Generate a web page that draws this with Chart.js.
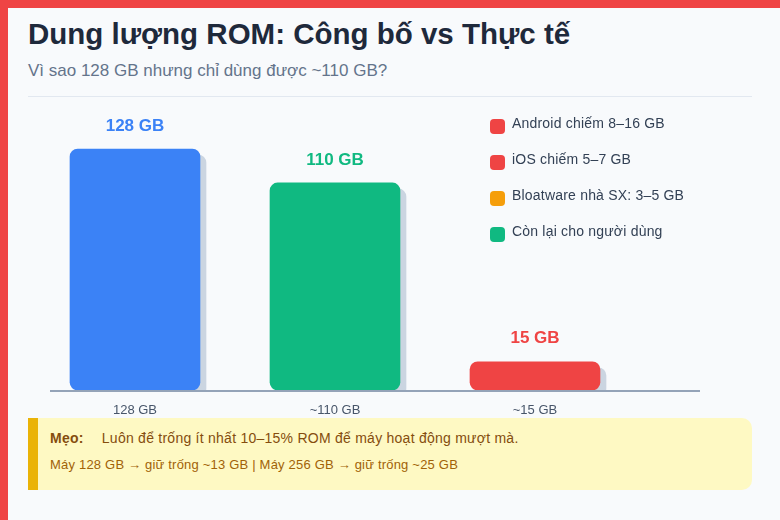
<!DOCTYPE html>
<html lang="vi">
<head>
<meta charset="utf-8">
<title>Dung lượng ROM</title>
<script src="https://cdn.jsdelivr.net/npm/chart.js@4.4.1/dist/chart.umd.min.js"></script>
<style>
  html, body { margin: 0; padding: 0; }
  body {
    width: 780px; height: 520px; overflow: hidden;
    background: #ef4444;
    font-family: "Liberation Sans", Arial, Helvetica, sans-serif;
    position: relative;
  }
  .card {
    position: absolute; left: 8px; top: 8px; width: 772px; height: 512px;
    background: #f8fafc;
  }
  h1 {
    position: absolute; left: 28px; top: 16px; margin: 0;
    font-size: 29.5px; font-weight: 700; color: #1e293b; line-height: 36px;
  }
  .sub {
    position: absolute; left: 28px; top: 61px; margin: 0;
    font-size: 17px; color: #64748b; line-height: 20px;
  }
  .divider {
    position: absolute; left: 28px; top: 96px; width: 724px; height: 1px;
    background: #e2e8f0;
  }
  #chart { position: absolute; left: 0; top: 0; }
  .legend { position: absolute; left: 490px; top: 113px; }
  .legend .item {
    display: flex; align-items: center; height: 20px; margin-bottom: 16px;
    font-size: 14px; color: #334155; letter-spacing: 0.2px;
  }
  .legend .sw {
    width: 15px; height: 15px; border-radius: 4px; margin-right: 7px; flex-shrink: 0;
    position: relative; top: 3px;
  }
  .tip {
    position: absolute; left: 28px; top: 418px; width: 714px; height: 72px;
    background: #fef9c3; border-left: 10px solid #eab308;
    border-radius: 0 10px 10px 0;
  }
  .tip .l1 {
    position: absolute; left: 12px; top: 12px; font-size: 14px; color: #854d0e;
    letter-spacing: 0.25px;
  }
  .tip .l1 b { margin-right: 14px; }
  .tip .l2 {
    position: absolute; left: 12px; top: 39px; font-size: 13px; color: #a16207;
    letter-spacing: 0.2px;
  }
</style>
</head>
<body>
<div class="card"></div>
<h1>Dung lượng ROM: Công bố vs Thực tế</h1>
<p class="sub">Vì sao 128 GB nhưng chỉ dùng được ~110 GB?</p>
<div class="divider"></div>
<canvas id="chart" width="780" height="520"></canvas>
<div class="legend" id="legend"></div>
<div class="tip">
  <div class="l1"><b>Mẹo:</b> Luôn để trống ít nhất 10–15% ROM để máy hoạt động mượt mà.</div>
  <div class="l2">Máy 128 GB → giữ trống ~13 GB | Máy 256 GB → giữ trống ~25 GB</div>
</div>
<script>
// Dữ liệu
const categories  = ["128 GB", "~110 GB", "~15 GB"];
const values      = [128, 110, 15];
const valueLabels = ["128 GB", "110 GB", "15 GB"];
const barColors   = ["#3b82f6", "#10b981", "#ef4444"];

const legendLabels = ["Android chiếm 8–16 GB", "iOS chiếm 5–7 GB", "Bloatware nhà SX: 3–5 GB", "Còn lại cho người dùng"];
const legendColors = ["#ef4444", "#ef4444", "#f59e0b", "#10b981"];

const FONT = '"Liberation Sans", Arial, Helvetica, sans-serif';

// Legend HTML
document.getElementById("legend").innerHTML = legendLabels.map((l, i) =>
  `<div class="item"><span class="sw" style="background:${legendColors[i]}"></span>${l}</div>`
).join("");

// Bóng đổ cứng cho cột
const barShadow = {
  id: "barShadow",
  beforeDatasetDraw(chart) {
    const ctx = chart.ctx;
    ctx.save();
    ctx.shadowColor   = "#cbd5e1";
    ctx.shadowOffsetX = 6;
    ctx.shadowOffsetY = 6;
    ctx.shadowBlur    = 0;
  },
  afterDatasetDraw(chart) {
    chart.ctx.restore();
  },
};

// Đường đáy
const baseLine = {
  id: "baseLine",
  beforeDatasetsDraw(chart) {
    const { ctx, chartArea, scales } = chart;
    const y = scales.y.getPixelForValue(0);
    ctx.save();
    ctx.strokeStyle = "#94a3b8";
    ctx.lineWidth = 2;
    ctx.beginPath();
    ctx.moveTo(chartArea.left + 15, y + 1);
    ctx.lineTo(chartArea.right + 65, y + 1);
    ctx.stroke();
    ctx.restore();
  },
};

// Nhãn giá trị trên cột
const topLabels = {
  id: "topLabels",
  afterDatasetsDraw(chart) {
    const ctx = chart.ctx;
    const meta = chart.getDatasetMeta(0);
    ctx.save();
    ctx.font = `bold 17px ${FONT}`;
    ctx.textAlign = "center";
    ctx.textBaseline = "middle";
    meta.data.forEach((bar, i) => {
      ctx.fillStyle = barColors[i];
      ctx.fillText(valueLabels[i], bar.x, bar.y - 23);
    });
    ctx.restore();
  },
};

new Chart(document.getElementById("chart"), {
  type: "bar",
  data: {
    labels: categories,
    datasets: [{
      data: values,
      backgroundColor: barColors,
      borderRadius: 8,
      borderSkipped: false,
      barThickness: 130,
    }],
  },
  options: {
    responsive: false,
    animation: false,
    layout: { padding: { left: 35, right: 145, top: 107.6, bottom: 100 } },
    plugins: { legend: { display: false }, tooltip: { enabled: false } },
    scales: {
      x: {
        grid: { display: false, drawTicks: false },
        border: { display: false },
        ticks: { color: "#475569", font: { family: FONT, size: 13 }, padding: 13 },
        afterFit: s => { s.height = 30; },
      },
      y: {
        display: false,
        min: 0,
        max: 150,
      },
    },
  },
  plugins: [baseLine, barShadow, topLabels],
});
</script>
</body>
</html>
